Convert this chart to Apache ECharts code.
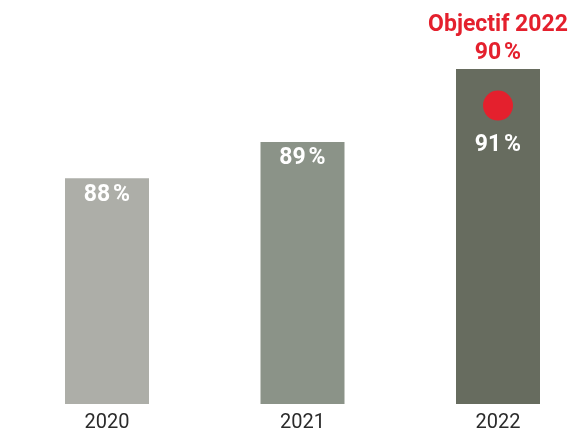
<!DOCTYPE html>
<html>
<head>
<meta charset="utf-8">
<script src="https://cdn.jsdelivr.net/npm/echarts@6/dist/echarts.min.js"></script>
<style>
  html, body { margin: 0; padding: 0; background: #ffffff; }
  #chart { width: 568px; height: 436px; }
</style>
</head>
<body>
<div id="chart"></div>
<script>
// Yearly results and the 2022 target
var years = ['2020', '2021', '2022'];
var rates = [88, 89, 91];
var barColors = ['#adaea8', '#8b9388', '#676c5f'];
var targetYear = '2022';
var targetRate = 90;
var targetTitle = 'Objectif 2022';

var FONT = 'Roboto, "Noto Sans", "Liberation Sans", sans-serif';
var RED = '#e4202d';

function pct(v) { return v + '\u202f%'; }

var barData = rates.map(function (v, i) {
  var item = {
    value: v,
    itemStyle: { color: barColors[i] }
  };
  // the last bar carries the target marker, so its value sits lower
  if (years[i] === targetYear) {
    item.label = { offset: [0, 60] };
  }
  return item;
});

var chart = echarts.init(document.getElementById('chart'), null, { renderer: 'canvas' });
chart.setOption({
  animation: false,
  backgroundColor: '#ffffff',
  // ticks sit at the bar centres
  grid: { left: 107, right: 70, top: 40, bottom: 32, containLabel: false },
  xAxis: {
    type: 'category',
    data: years,
    boundaryGap: false,
    axisLine: { show: false },
    axisTick: { show: false },
    splitLine: { show: false },
    axisLabel: {
      margin: 9,
      fontFamily: FONT,
      fontSize: 20,
      color: '#2b2b2b'
    }
  },
  yAxis: {
    type: 'value',
    min: 81.8,
    max: 91.8,
    show: false
  },
  series: [
    {
      type: 'bar',
      data: barData,
      barWidth: 84,
      label: {
        show: true,
        position: 'insideTop',
        distance: 5,
        fontFamily: FONT,
        fontSize: 23,
        fontWeight: 'bold',
        color: '#ffffff',
        formatter: function (p) { return pct(p.value); }
      }
    },
    {
      type: 'scatter',
      data: [[targetYear, targetRate]],
      symbol: 'circle',
      symbolSize: 30,
      z: 5,
      itemStyle: { color: RED, opacity: 1 },
      label: {
        show: true,
        position: 'top',
        distance: 23,
        fontFamily: FONT,
        fontSize: 23,
        fontWeight: 'bold',
        lineHeight: 28,
        color: RED,
        align: 'center',
        formatter: function (p) { return targetTitle + '\n' + pct(p.value[1]); }
      }
    }
  ]
});
</script>
</body>
</html>
